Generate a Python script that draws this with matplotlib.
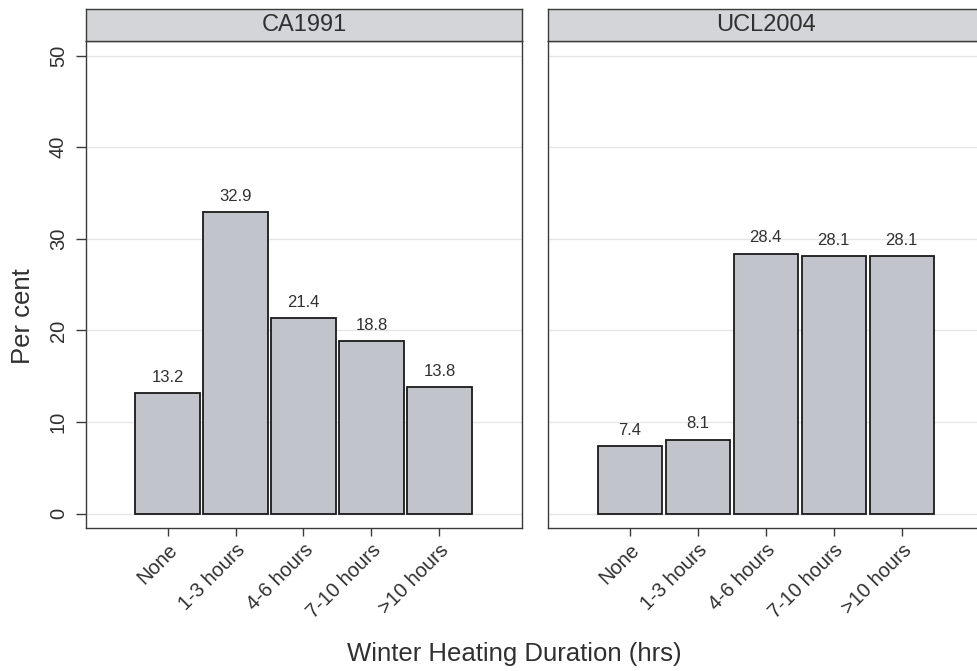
import matplotlib
matplotlib.use("Agg")
import matplotlib.pyplot as plt
import numpy as np

plt.rcParams['font.family'] = ['Liberation Sans', 'DejaVu Sans']

categories = ["None", "1-3 hours", "4-6 hours", "7-10 hours", ">10 hours"]
panels = ["CA1991", "UCL2004"]
ca1991 = [13.2, 32.9, 21.4, 18.8, 13.8]
ucl2004 = [7.4, 8.1, 28.4, 28.1, 28.1]
series = [ca1991, ucl2004]
yticks = [0, 10, 20, 30, 40, 50]

W, H = 978, 671
fig = plt.figure(figsize=(W / 100, H / 100), dpi=100)
fig.patch.set_facecolor("white")

frame_col = "#3a3a3a"
bar_col = "#c1c5cb"
grid_col = "#e6e6e6"
text_col = "#303030"

ax_top, ax_bot = 41, 528
strip_top = 9
lefts = [86, 548.3]
width = 436

x = np.arange(len(categories))
for i, (name, vals) in enumerate(zip(panels, series)):
    ax = fig.add_axes([lefts[i] / W, 1 - ax_bot / H, width / W, (ax_bot - ax_top) / H])
    ax.set_xlim(-1.2, 5.215)
    ax.set_ylim(-1.56, 51.6)
    ax.set_yticks(yticks)
    ax.yaxis.grid(True, color=grid_col, lw=1.0)
    ax.set_axisbelow(True)
    ax.bar(x, vals, width=0.945, color=bar_col, edgecolor="#1a1a1a", lw=1.3, zorder=3)
    for xi, v in zip(x, vals):
        ax.annotate(f"{v:.1f}", (xi, v), xytext=(0, 8), textcoords="offset points",
                    ha="center", va="baseline", fontsize=12, color=text_col)
    ax.set_xticks(x)
    ax.set_xticklabels(categories, rotation=45, ha="right", rotation_mode="anchor",
                       fontsize=14.5, color=text_col)
    ax.tick_params(axis="x", length=6, width=1, color=frame_col, pad=3)
    if i == 0:
        ax.set_yticklabels([str(t) for t in yticks], rotation=90, va="center",
                           fontsize=14.5, color=text_col)
        ax.tick_params(axis="y", length=7, width=1, color=frame_col, pad=6)
    else:
        ax.tick_params(axis="y", left=False, labelleft=False)
    for s in ax.spines.values():
        s.set_color(frame_col)
        s.set_linewidth(1.0)
    # strip
    sax = fig.add_axes([lefts[i] / W, 1 - ax_top / H, width / W, (ax_top - strip_top) / H])
    sax.set_facecolor("#d4d5d9")
    sax.set_xticks([])
    sax.set_yticks([])
    for s in sax.spines.values():
        s.set_color(frame_col)
        s.set_linewidth(1.0)
    sax.text(0.5, 0.5, name, transform=sax.transAxes, ha="center", va="center",
             fontsize=17, color=text_col)

fig.text(23 / W, 1 - 316 / H, "Per cent", rotation=90, ha="center", va="center",
         fontsize=18.5, color=text_col)
fig.text(514 / W, 1 - 661.5 / H, "Winter Heating Duration (hrs)", ha="center", va="baseline",
         fontsize=18.5, color=text_col)

fig.savefig("out.png", dpi=100, facecolor="white")
